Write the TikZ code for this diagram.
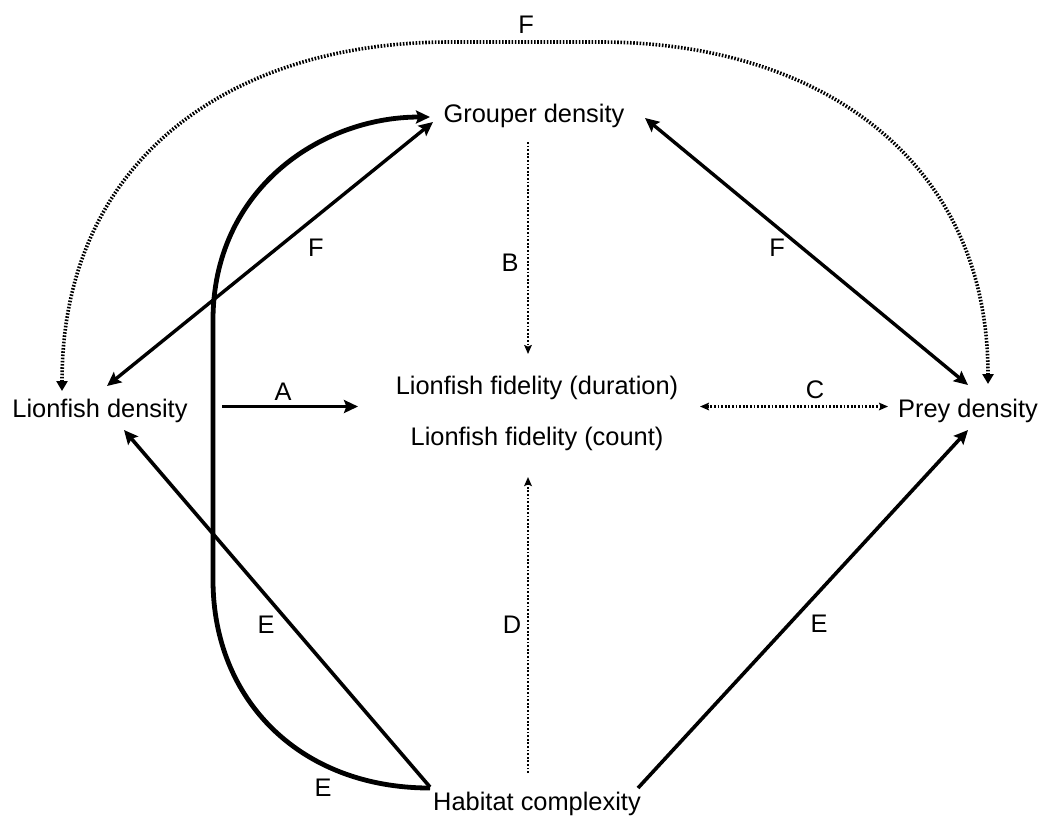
\documentclass[tikz,border=0pt]{standalone}
\usepackage{fontspec}
\setmainfont{Liberation Sans}
\usetikzlibrary{arrows.meta}
\tikzstyle{var} = [inner sep=0pt, anchor=base, font=\fontsize{12.7}{15}\selectfont]
\tikzstyle{lbl} = [inner sep=0pt, font=\fontsize{12.7}{15}\selectfont]
\tikzstyle{arrow} = [line width=1.8pt, -{Stealth[length=7pt,width=6.5pt,inset=1.2pt]}]
\tikzstyle{twoway} = [line width=1.7pt, {Stealth[length=7pt,width=6.5pt,inset=1.2pt]}-{Stealth[length=7pt,width=6.5pt,inset=1.2pt]}]
\tikzstyle{curvearrow} = [line width=2.4pt, -{Stealth[length=7pt,width=6.5pt,inset=1.2pt]}]
\tikzstyle{dotarrow} = [line width=1.1pt, dash pattern=on 0.9pt off 0.9pt, -{Stealth[length=4.5pt,width=3.8pt,inset=0.8pt]}]
\tikzstyle{dotboth} = [line width=1.1pt, dash pattern=on 0.9pt off 0.9pt, {Stealth[length=4.5pt,width=3.8pt,inset=0.8pt]}-{Stealth[length=4.5pt,width=3.8pt,inset=0.8pt]}]
\tikzstyle{bigdots} = [line width=1.8pt, dash pattern=on 0.8pt off 0.8pt, {Triangle[length=5pt,width=5.5pt]}-{Triangle[length=5pt,width=5.5pt]}]

\begin{document}
\begin{tikzpicture}[x=0.5pt, y=-0.5pt]
  \useasboundingbox (0,0) rectangle (1042,816);

  \node (grp)  [var] at (534,122) {Grouper density};
  \node (lden) [var] at (100,417) {Lionfish density};
  \node (prey) [var] at (968,417) {Prey density};
  \node (fdur) [var] at (537,394) {Lionfish fidelity (duration)};
  \node (fcnt) [var] at (537,445) {Lionfish fidelity (count)};
  \node (hab)  [var] at (537,810) {Habitat complexity};

  % path labels
  \node (lFtop)   [lbl] at (526,25)  {F};
  \node (lFleft)  [lbl] at (316,248) {F};
  \node (lFright) [lbl] at (777,248) {F};
  \node (lA)      [lbl] at (283,392) {A};
  \node (lB)      [lbl] at (510,263) {B};
  \node (lC)      [lbl] at (815,390) {C};
  \node (lD)      [lbl] at (512,625) {D};
  \node (lEleft)  [lbl] at (266,625) {E};
  \node (lEbot)   [lbl] at (323,788) {E};
  \node (lEright) [lbl] at (819,624) {E};

  \draw[bigdots] ([shift={(-38,-26)}]lden.base) .. controls (62,160) and (230,42) .. (450,42)
    -- (600,42) .. controls (820,42) and (988,160) .. ([shift={(20,-33)}]prey.base);
  \draw[twoway] ([shift={(7,-31)}]lden.base) -- ([shift={(-101,0)}]grp.base);
  \draw[twoway] ([shift={(111,-4)}]grp.base) -- ([shift={(0,-32)}]prey.base);
  \draw[arrow] ([shift={(122,-10.5)}]lden.base) -- ([shift={(-179,12.5)}]fdur.base);
  \draw[dotarrow] ([shift={(-6,20)}]grp.base) -- ([shift={(-9,-40)}]fdur.base);
  \draw[dotboth] ([shift={(163,12.5)}]fdur.base) -- ([shift={(-80,-10.5)}]prey.base);
  \draw[dotarrow] ([shift={(-9,-37)}]hab.base) -- ([shift={(-9,32)}]fcnt.base);
  \draw[arrow] ([shift={(101,-22)}]hab.base) -- ([shift={(0,13)}]prey.base);
  \draw[arrow] ([shift={(-107,-23)}]hab.base) -- ([shift={(24,13)}]lden.base);
  \draw[curvearrow] ([shift={(-107,-22)}]hab.base) .. controls (300,788) and (213,700) .. (213,580)
    -- (213,320) .. controls (213,190) and (320,117) .. ([shift={(-104,-5)}]grp.base);
\end{tikzpicture}
\end{document}
